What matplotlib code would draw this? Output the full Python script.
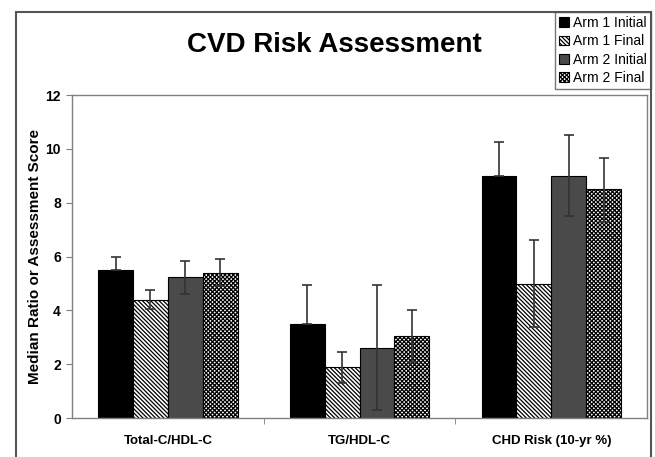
import numpy as np
import matplotlib
matplotlib.use("Agg")
import matplotlib.pyplot as plt
from matplotlib.patches import Rectangle

plt.rcParams["font.family"] = ["Liberation Sans", "DejaVu Sans"]
plt.rcParams["hatch.linewidth"] = 0.9

categories = ["Total-C/HDL-C", "TG/HDL-C", "CHD Risk (10-yr %)"]
series = ["Arm 1 Initial", "Arm 1 Final", "Arm 2 Initial", "Arm 2 Final"]

# medians
arm1_initial = [5.5, 3.5, 9.0]
arm1_final = [4.4, 1.9, 5.0]
arm2_initial = [5.25, 2.6, 9.0]
arm2_final = [5.4, 3.05, 8.5]

# error bar ends (low, high)
arm1_initial_lo = [5.5, 3.5, 9.0]
arm1_initial_hi = [6.0, 4.95, 10.25]
arm1_final_lo = [4.05, 1.3, 3.4]
arm1_final_hi = [4.75, 2.45, 6.6]
arm2_initial_lo = [4.6, 0.32, 7.5]
arm2_initial_hi = [5.85, 4.95, 10.5]
arm2_final_lo = [4.9, 2.1, 7.3]
arm2_final_hi = [5.9, 4.0, 9.68]

values = [arm1_initial, arm1_final, arm2_initial, arm2_final]
lows = [arm1_initial_lo, arm1_final_lo, arm2_initial_lo, arm2_final_lo]
highs = [arm1_initial_hi, arm1_final_hi, arm2_initial_hi, arm2_final_hi]

faces = ["black", "white", "#4a4a4a", "white"]
hatches = [None, "\\\\\\\\\\\\\\\\", None, "xxxxxxxx"]

fig = plt.figure(figsize=(6.55, 4.57), dpi=100)
ax = fig.add_axes([0.110, 0.085, 0.878, 0.707])

# outer frame around the whole chart
fig.patches.append(Rectangle((16 / 655, -0.05), (651 - 16) / 655, 1.05 - 12 / 457,
                             transform=fig.transFigure, fill=False,
                             edgecolor="#555555", linewidth=1.5, clip_on=False))

x = np.arange(len(categories))
w = 0.182
for i in range(4):
    pos = x + (i - 1.5) * w
    v = np.array(values[i])
    err = [v - np.array(lows[i]), np.array(highs[i]) - v]
    ax.bar(pos, v, w, color=faces[i], hatch=hatches[i], edgecolor="black",
           linewidth=0.8, label=series[i], zorder=2)
    ax.errorbar(pos, v, yerr=err, fmt="none", ecolor="#333333",
                elinewidth=1.2, capsize=3.5, capthick=1.2, zorder=3)

ax.set_xlim(-0.5, 2.5)
ax.set_ylim(0, 12)
ax.set_yticks(range(0, 13, 2))
ax.set_xticks(x)
ax.set_xticklabels(categories, fontweight="bold", fontsize=9.5)
ax.set_xticks([0.5, 1.5], minor=True)
ax.tick_params(axis="x", which="major", length=0, pad=12)
ax.tick_params(axis="x", which="minor", length=4, color="#808080", direction="out")
ax.tick_params(axis="y", length=4, color="#808080", labelsize=10, pad=4)
for lab in ax.get_yticklabels():
    lab.set_fontweight("bold")
for s in ax.spines.values():
    s.set_color("#808080")
    s.set_linewidth(1.0)

ax.set_ylabel("Median Ratio or Assessment Score", fontweight="bold", fontsize=11)
ax.yaxis.set_label_coords(-0.052, 0.5)

fig.text(334 / 655, 1 - 45 / 457, "CVD Risk Assessment", ha="center", va="center",
         fontsize=20, fontweight="bold")

leg = ax.legend(loc="upper right", bbox_to_anchor=(651 / 655, 1 - 12 / 457),
                bbox_transform=fig.transFigure, fontsize=10, frameon=True,
                fancybox=False, edgecolor="#555555", handlelength=0.7,
                handleheight=0.7, handletextpad=0.3, labelspacing=0.3,
                borderpad=0.3, borderaxespad=0)
leg.get_frame().set_linewidth(1.0)

fig.savefig("out.png", dpi=100)
